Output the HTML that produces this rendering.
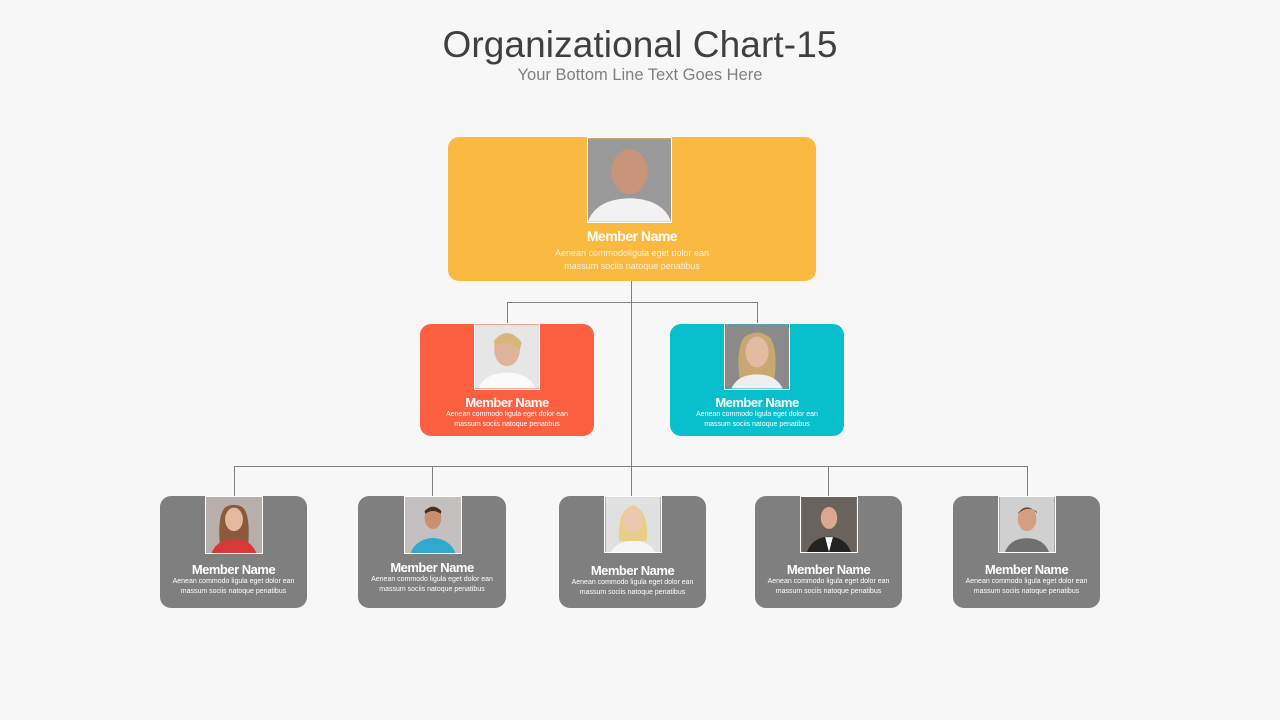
<!DOCTYPE html>
<html><head><meta charset="utf-8"><style>
body{margin:0;width:1280px;height:720px;background:#f7f7f7;position:relative;overflow:hidden;font-family:"Liberation Sans",sans-serif}
.a{position:absolute}
.box{position:absolute;border-radius:11px}
.ph{position:absolute;border:1px solid #fff;box-sizing:border-box;overflow:hidden}
.ph svg{width:100%;height:100%;display:block}
.t{position:absolute;text-align:center;color:#fff;white-space:nowrap}
.n{font-weight:bold;letter-spacing:-0.5px}
.ln{position:absolute;background:#808080}
</style></head><body>
<div class="a" style="left:0;width:1280px;top:24px;text-align:center;font-size:37px;color:#404040;letter-spacing:0.1px">Organizational Chart-15</div>
<div class="a" style="left:0;width:1280px;top:66px;text-align:center;font-size:16.5px;color:#808080">Your Bottom Line Text Goes Here</div>

<div class="ln" style="left:631px;top:281px;width:1px;height:186px"></div>
<div class="ln" style="left:507px;top:302px;width:251px;height:1px"></div>
<div class="ln" style="left:507px;top:302px;width:1px;height:22px"></div>
<div class="ln" style="left:757px;top:302px;width:1px;height:22px"></div>
<div class="ln" style="left:234px;top:466px;width:794px;height:1px"></div>
<div class="ln" style="left:234px;top:466px;width:1px;height:30px"></div>
<div class="ln" style="left:432px;top:466px;width:1px;height:30px"></div>
<div class="ln" style="left:631px;top:466px;width:1px;height:30px"></div>
<div class="ln" style="left:828px;top:466px;width:1px;height:30px"></div>
<div class="ln" style="left:1027px;top:466px;width:1px;height:30px"></div>

<div class="box" style="left:448px;top:137px;width:368px;height:144px;background:#fab941"></div>
<div class="ph" style="left:587px;top:137px;width:85px;height:86px"><svg viewBox="0 0 10 10"><rect width="10" height="10" fill="#9a9a9a"/><ellipse cx="5" cy="4" rx="2.2" ry="2.7" fill="#c9957a"/><path d="M0 10 Q1 7.3 5 7.2 Q9 7.3 10 10Z" fill="#f2f2f2"/></svg></div>
<div class="t n" style="left:448px;width:368px;top:228px;font-size:14px">Member Name</div>
<div class="t" style="left:448px;width:368px;top:247px;font-size:9px;line-height:13px;color:#fdf0d8">Aenean commodoligula eget dolor ean<br>massum sociis natoque penatibus</div>

<div class="box" style="left:420px;top:324px;width:174px;height:112px;background:#fd5f41"></div>
<div class="ph" style="left:474px;top:323px;width:66px;height:67px"><svg viewBox="0 0 10 10"><rect width="10" height="10" fill="#e6e6e6"/><ellipse cx="5" cy="4" rx="2" ry="2.5" fill="#e0b49a"/><path d="M3 2.5 Q5 0 7.3 2.8 L7 4 Q5 2 3 3.5Z" fill="#d8b878"/><path d="M0.5 10 Q1.5 7.6 5 7.5 Q8.5 7.6 9.5 10Z" fill="#fafafa"/></svg></div>
<div class="t n" style="left:420px;width:174px;top:395px;font-size:13px">Member Name</div>
<div class="t" style="left:420px;width:174px;top:410px;font-size:7px;line-height:10px">Aenean commodo ligula eget dolor ean<br>massum sociis natoque penatibus</div>

<div class="box" style="left:670px;top:324px;width:174px;height:112px;background:#08bfcd"></div>
<div class="ph" style="left:724px;top:323px;width:66px;height:67px"><svg viewBox="0 0 10 10"><rect width="10" height="10" fill="#8a8a8a"/><path d="M2.5 10 Q1.5 4 3 2 Q5 0.5 7 2 Q8.5 4 7.5 10Z" fill="#c8a870"/><ellipse cx="5" cy="4.3" rx="1.8" ry="2.4" fill="#e3bba0"/><path d="M1 10 Q2 7.8 5 7.8 Q8 7.8 9 10Z" fill="#efefef"/></svg></div>
<div class="t n" style="left:670px;width:174px;top:395px;font-size:13px">Member Name</div>
<div class="t" style="left:670px;width:174px;top:410px;font-size:7px;line-height:10px">Aenean commodo ligula eget dolor ean<br>massum sociis natoque penatibus</div>

<div class="box" style="left:160px;top:496px;width:147px;height:112px;background:#7f7f7f"></div>
<div class="ph" style="left:205px;top:496px;width:58px;height:58px"><svg viewBox="0 0 10 10"><rect width="10" height="10" fill="#b8aeab"/><path d="M2.5 9 Q2 3 3.5 1.8 Q5 1 6.5 1.8 Q8 3 7.5 9Z" fill="#8a5a3a"/><ellipse cx="5" cy="4" rx="1.6" ry="2.1" fill="#e5b9a0"/><path d="M1 10 Q2 7.5 5 7.5 Q8 7.5 9 10Z" fill="#d83838"/></svg></div>
<div class="t n" style="left:160px;width:147px;top:562px;font-size:13px">Member Name</div>
<div class="t" style="left:160px;width:147px;top:577px;font-size:7px;line-height:10px">Aenean commodo ligula eget dolor ean<br>massum sociis natoque penatibus</div>

<div class="box" style="left:358px;top:496px;width:148px;height:112px;background:#7f7f7f"></div>
<div class="ph" style="left:404px;top:496px;width:58px;height:58px"><svg viewBox="0 0 10 10"><rect width="10" height="10" fill="#c5c0c0"/><ellipse cx="5" cy="3.7" rx="1.5" ry="2" fill="#c8906e"/><path d="M3.5 2.5 Q5 1 6.5 2.5 L6.4 3 Q5 2 3.6 3Z" fill="#4a3020"/><path d="M1 10 Q2 7.5 5 7.3 Q8 7.5 9 10Z" fill="#30a8d0"/></svg></div>
<div class="t n" style="left:358px;width:148px;top:560px;font-size:13px">Member Name</div>
<div class="t" style="left:358px;width:148px;top:575px;font-size:7px;line-height:10px">Aenean commodo ligula eget dolor ean<br>massum sociis natoque penatibus</div>

<div class="box" style="left:559px;top:496px;width:147px;height:112px;background:#7f7f7f"></div>
<div class="ph" style="left:604px;top:496px;width:58px;height:57px"><svg viewBox="0 0 10 10"><rect width="10" height="10" fill="#e0e0e0"/><path d="M2.5 8 Q2 2.5 5 1.5 Q8 2.5 7.5 8Z" fill="#e8cf88"/><ellipse cx="5" cy="4.3" rx="1.7" ry="2.2" fill="#edc8b0"/><path d="M1 10 Q2 8 5 8 Q8 8 9 10Z" fill="#f5f5f5"/></svg></div>
<div class="t n" style="left:559px;width:147px;top:563px;font-size:13px">Member Name</div>
<div class="t" style="left:559px;width:147px;top:578px;font-size:7px;line-height:10px">Aenean commodo ligula eget dolor ean<br>massum sociis natoque penatibus</div>

<div class="box" style="left:755px;top:496px;width:147px;height:112px;background:#7f7f7f"></div>
<div class="ph" style="left:800px;top:496px;width:58px;height:57px"><svg viewBox="0 0 10 10"><rect width="10" height="10" fill="#6a625c"/><ellipse cx="5" cy="3.8" rx="1.5" ry="2" fill="#d8a890"/><path d="M1 10 Q2 7.3 5 7.2 Q8 7.3 9 10Z" fill="#222"/><path d="M4.3 7.3 L5 10 L5.7 7.3Z" fill="#fff"/></svg></div>
<div class="t n" style="left:755px;width:147px;top:562px;font-size:13px">Member Name</div>
<div class="t" style="left:755px;width:147px;top:577px;font-size:7px;line-height:10px">Aenean commodo ligula eget dolor ean<br>massum sociis natoque penatibus</div>

<div class="box" style="left:953px;top:496px;width:147px;height:112px;background:#7f7f7f"></div>
<div class="ph" style="left:998px;top:496px;width:58px;height:57px"><svg viewBox="0 0 10 10"><rect width="10" height="10" fill="#d0d0d0"/><ellipse cx="5" cy="4" rx="1.7" ry="2.2" fill="#d0a080"/><path d="M3.3 3 Q5 0.8 6.8 3 L6.7 2.6 Q5 1.5 3.4 3Z" fill="#5a4030"/><path d="M1 10 Q2 7.5 5 7.5 Q8 7.5 9 10Z" fill="#707070"/></svg></div>
<div class="t n" style="left:953px;width:147px;top:562px;font-size:13px">Member Name</div>
<div class="t" style="left:953px;width:147px;top:577px;font-size:7px;line-height:10px">Aenean commodo ligula eget dolor ean<br>massum sociis natoque penatibus</div>
</body></html>
